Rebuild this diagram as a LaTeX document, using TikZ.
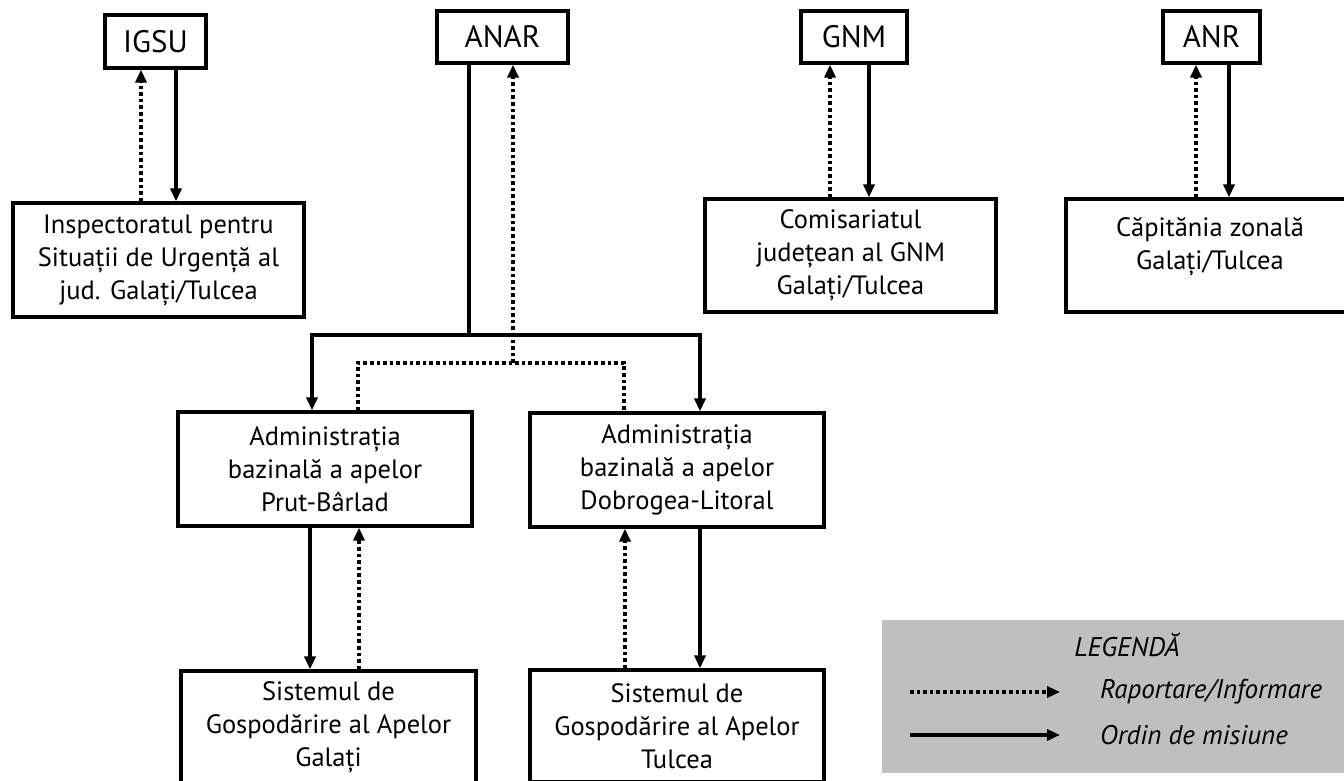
\documentclass[tikz,border=0pt]{standalone}
\usepackage{fontspec}
\setmainfont{PT Sans}
\usetikzlibrary{arrows.meta}
\begin{document}
\begin{tikzpicture}[x=1pt,y=-1pt,
  box/.style={draw=black,line width=3.2pt,fill=white,align=center,inner sep=0pt,
    font=\fontsize{26.5}{33}\selectfont},
  headbox/.style={draw=black,line width=3.2pt,fill=white,align=center,inner sep=0pt,
    font=\fontsize{31}{36}\selectfont},
  order/.style={line width=3.4pt,-{Triangle[length=13pt,width=11pt]}},
  orderline/.style={line width=3.4pt},
  report/.style={line width=3.6pt,dash pattern=on 3.6pt off 3pt,-{Triangle[length=13pt,width=11pt]}},
  reportline/.style={line width=3.6pt,dash pattern=on 3.6pt off 3pt},
  legtext/.style={font=\fontsize{27}{30}\selectfont\itshape,anchor=west,inner sep=0pt}
]
\useasboundingbox (0,0) rectangle (1344,780);
\fill[white] (0,0) rectangle (1344,780);

% top level
\node[headbox,minimum width=101pt,minimum height=53pt] (igsu) at (155.5,41.5) {IGSU};
\node[headbox,minimum width=131pt,minimum height=52pt] (anar) at (502.5,37) {ANAR};
\node[headbox,minimum width=106pt,minimum height=52pt] (gnm) at (854,37) {GNM};
\node[headbox,minimum width=97pt,minimum height=52pt] (anr) at (1211.5,37) {ANR};

% second level
\node[box,minimum width=291pt,minimum height=114pt] (isu) at (158.5,260)
  {Inspectoratul pentru\\Situații de Urgență al\\jud. Galați/Tulcea};
\node[box,minimum width=291pt,minimum height=113pt] (com) at (850.5,255.5)
  {Comisariatul\\județean al GNM\\Galați/Tulcea};
\node[box,minimum width=284pt,minimum height=113pt] (cap) at (1208,255.5) {};
\node[align=center,inner sep=0pt,font=\fontsize{26.5}{33}\selectfont] (caplbl) at (1210,247)
  {Căpitănia zonală\\Galați/Tulcea};
\node[box,minimum width=294pt,minimum height=114pt] (abaP) at (325,469)
  {Administrația\\bazinală a apelor\\Prut-Bârlad};
\node[box,minimum width=294pt,minimum height=114pt] (abaD) at (677,470)
  {Administrația\\bazinală a apelor\\Dobrogea-Litoral};
\node[box,minimum width=295pt,minimum height=112pt] (sgaG) at (328.5,727)
  {Sistemul de\\Gospodărire al Apelor\\Galați};
\node[box,minimum width=294pt,minimum height=112pt] (sgaT) at (677,726)
  {Sistemul de\\Gospodărire al Apelor\\Tulcea};

% IGSU
\draw[report] ([xshift=-17.5pt]isu.north) -- ([xshift=-14.5pt]igsu.south);
\draw[order] ([xshift=20.5pt]igsu.south) -- ([xshift=17.5pt]isu.north);
% GNM
\draw[report] ([xshift=-20.5pt]com.north) -- ([xshift=-24pt]gnm.south);
\draw[order] ([xshift=15pt]gnm.south) -- ([xshift=18.5pt]com.north);
% ANR
\draw[report] ([xshift=-12pt]cap.north) -- ([xshift=-15.5pt]anr.south);
\draw[order] ([xshift=17.5pt]anr.south) -- ([xshift=21pt]cap.north);

% ANAR orders
\coordinate (oj) at (469,335);
\coordinate (ol) at (312,335);
\coordinate (or) at (700,335);
\draw[orderline] ([xshift=-33.5pt]anar.south) -- (oj);
\draw[orderline,line cap=rect] (ol) -- (or);
\draw[order] (ol) -- ([xshift=-13pt]abaP.north);
\draw[order] (or) -- ([xshift=23pt]abaD.north);
% ANAR reports
\coordinate (rj) at (513,363);
\coordinate (rl) at (358,363);
\coordinate (rr) at (624,363);
\draw[reportline] ([xshift=33pt]abaP.north) -- (rl) -- (rr) -- ([xshift=-53pt]abaD.north);
\draw[report] (rj) -- ([xshift=10.5pt]anar.south);

% basin to local
\draw[order] ([xshift=-15pt]abaP.south) -- ([xshift=-18.5pt]sgaG.north);
\draw[report] ([xshift=30.5pt]sgaG.north) -- ([xshift=34pt]abaP.south);
\draw[report] ([xshift=-52pt]sgaT.north) -- ([xshift=-52pt]abaD.south);
\draw[order] ([xshift=23pt]abaD.south) -- ([xshift=23pt]sgaT.north);

% legend
\fill[fill={rgb,255:red,191;green,191;blue,191}] (882,620) rectangle (1350,773);
\node[font=\fontsize{27}{30}\selectfont\itshape,inner sep=0pt] (legt) at (1127,645) {LEGENDĂ};
\coordinate (l1a) at (910,692);
\coordinate (l1b) at (1060,692);
\coordinate (l2a) at (910,735);
\coordinate (l2b) at (1060,735);
\draw[report] (l1a) -- (l1b);
\draw[order] (l2a) -- (l2b);
\node[legtext] (lr) at (1100,692) {Raportare/Informare};
\node[legtext] (lo) at (1100,735) {Ordin de misiune};
\end{tikzpicture}
\end{document}
